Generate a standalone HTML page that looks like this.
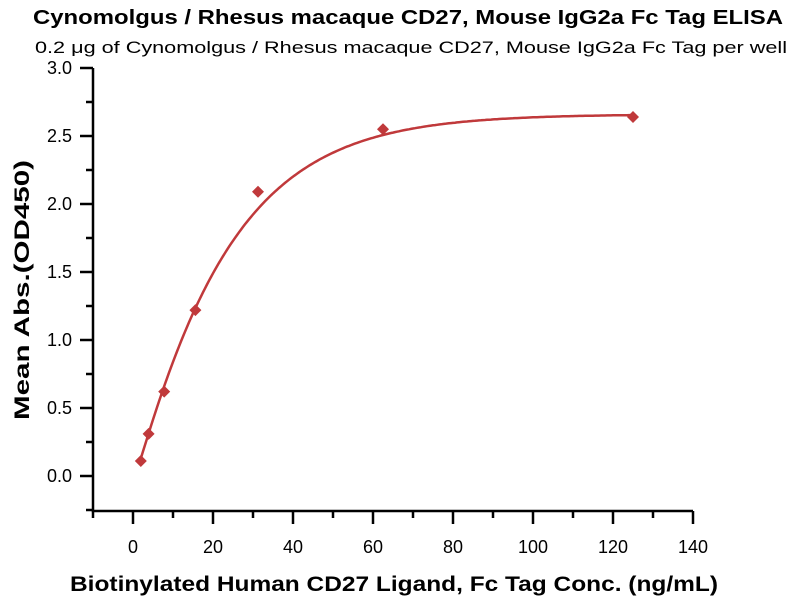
<!DOCTYPE html>
<html><head><meta charset="utf-8"><style>body{margin:0;background:#fff}svg{display:block}</style></head>
<body>
<svg id="s" width="800" height="600" xmlns="http://www.w3.org/2000/svg" font-family="'Liberation Sans', sans-serif">
<text x="33" y="24" font-size="20" font-weight="bold" textLength="750" lengthAdjust="spacingAndGlyphs">Cynomolgus / Rhesus macaque CD27, Mouse IgG2a Fc Tag ELISA</text>
<text x="35" y="53" font-size="17" textLength="752" lengthAdjust="spacingAndGlyphs">0.2 μg of Cynomolgus / Rhesus macaque CD27, Mouse IgG2a Fc Tag per well</text>
<text x="70" y="591" font-size="21" font-weight="bold" textLength="648" lengthAdjust="spacingAndGlyphs">Biotinylated Human CD27 Ligand, Fc Tag Conc. (ng/mL)</text>
<text transform="translate(29,420) rotate(-90)" font-size="21" font-weight="bold" textLength="260" lengthAdjust="spacingAndGlyphs">Mean Abs.(OD450)</text>
<g id="ax" stroke="#000" stroke-width="2.5" fill="none"></g>
<g id="lb" font-size="18" fill="#000"></g>
<path id="cv" fill="none" stroke="#c0393b" stroke-width="2.5"/>
<g id="pts" fill="#c0393b"></g>
</svg>
<script>
const X=v=>133+4*v, Y=v=>476-136*v;
let ax='',lb='';
ax+=`<path d="M93 68V511H693"/>`;
for(let v=-10;v<=140;v+=10){const x=X(v);const maj=v%20==0;ax+=`<path d="M${x} 511V${maj?524:518}"/>`;if(maj&&v>=0)lb+=`<text x="${x}" y="553" text-anchor="middle">${v}</text>`;}
for(let i=-1;i<=12;i++){const v=i*0.25,y=Y(v);if(y<68)continue;const maj=i%2==0;ax+=`<path d="M${maj?80:86} ${y}H93"/>`;if(maj&&v>=0)lb+=`<text x="72" y="${y+6}" text-anchor="end">${v.toFixed(1)}</text>`;}
document.getElementById('ax').innerHTML=ax;document.getElementById('lb').innerHTML=lb;
const f=x=>-0.05+2.71*(1-Math.exp(-Math.pow(x/23.5,1.08)));
let d='';for(let x=2;x<=125;x+=0.5)d+=(d?'L':'M')+X(x).toFixed(1)+' '+Y(f(x)).toFixed(1);
document.getElementById('cv').setAttribute('d',d);
const P=[[1.95,0.11],[3.9,0.31],[7.8,0.62],[15.6,1.22],[31.25,2.09],[62.5,2.55],[125,2.64]];
document.getElementById('pts').innerHTML=P.map(([a,b])=>{const x=X(a),y=Y(b);return `<path d="M${x} ${y-6}L${x+6} ${y}L${x} ${y+6}L${x-6} ${y}Z"/>`}).join('');
</script>
</body></html>
